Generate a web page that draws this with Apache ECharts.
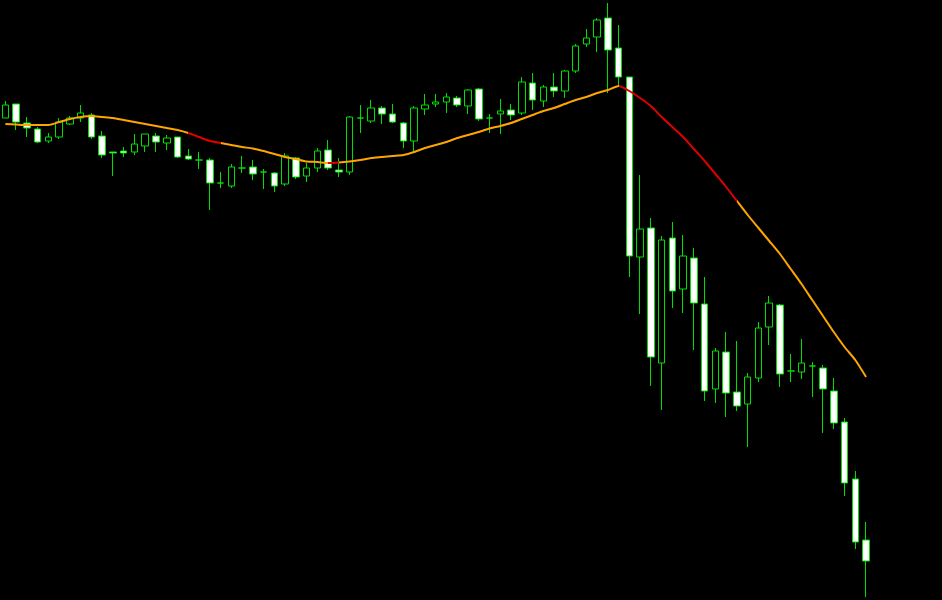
<!DOCTYPE html>
<html>
<head>
<meta charset="utf-8">
<script src="https://cdn.jsdelivr.net/npm/echarts@6/dist/echarts.min.js"></script>
<style>
html,body{margin:0;padding:0;background:#000;}
#chart{width:942px;height:600px;}
</style>
</head>
<body>
<div id="chart"></div>
<script>
// Candle values (price points)
var opens  = [482,496,477,471,459,463,476,482,485,464,448,449,448,454,464,457,463,444,440,440,417,414,432,433,428,427,416,442,424,432,450,430,428,482,479,492,486,477,459,491,496,498,502,494,511,482,486,490,487,517,499,513,509,529,556,563,582,552,523,343,372,237,362,311,342,296,211,248,208,196,222,273,295,229,228,234,232,209,178,121,60];
var closes = [495,478,472,458,463,478,482,487,463,445,447,447,456,466,458,462,443,441,440,417,417,433,432,426,428,414,444,423,432,449,432,428,483,482,492,486,478,459,492,495,498,503,495,510,481,482,489,485,518,500,513,509,529,554,562,580,550,523,344,371,243,360,309,344,297,209,249,207,194,223,272,297,226,229,237,234,211,177,117,58,39];
var lows   = [482,470,463,457,457,461,475,478,461,442,424,443,445,448,448,450,442,440,431,390,412,412,427,420,411,408,414,421,418,428,430,423,425,467,477,476,477,452,448,485,493,487,493,486,479,467,466,480,485,490,493,503,502,527,553,548,507,515,323,286,214,190,292,287,250,199,197,183,189,153,218,255,213,218,221,203,167,171,104,51,3];
var highs  = [499,496,483,473,467,482,484,495,487,469,448,453,466,466,467,465,463,451,448,442,428,436,444,440,431,428,447,443,437,452,460,442,484,495,500,494,496,478,494,506,506,507,504,511,512,486,501,496,523,527,515,527,530,556,571,582,597,575,523,425,382,364,378,365,352,323,252,268,259,227,278,304,296,246,261,238,235,222,182,129,78];
var maValues = [476,475.5,475,475,475,478,481,483,484,483,482,480,478,476,474,472,470,467,463,459,457,455,453,451.5,449,446,443,441,438.5,438,437,437.5,438.5,440,442,443,444,445,448,452,455,458,462,465,468,471.5,474,477,481,485,489,492,496,500,503,507,510,514,509,502,494,483,473,463,451,439,426,413,399,385,372,359,346,331,316,300,284,268,253,240,223];
var emptySlots = 6; // chart shift space on the right

var categories = [];
for (var i = 0; i < opens.length + emptySlots; i++) categories.push(String(i + 1));

var candleData = opens.map(function (o, i) { return [o, closes[i], lows[i], highs[i]]; });

var chart = echarts.init(document.getElementById('chart'), null, {renderer: 'canvas'});
var green = '#00E000';
chart.setOption({
  backgroundColor: '#000000',
  animation: false,
  grid: {left: -1.4, right: 6, top: 0, bottom: 0},
  xAxis: {type: 'category', data: categories, show: false, boundaryGap: true},
  yAxis: {type: 'value', min: 0, max: 600, show: false, splitLine: {show: false}},
  visualMap: {
    show: false,
    type: 'piecewise',
    seriesIndex: 1,
    dimension: 0,
    pieces: [
      {lt: 16.8, color: '#FFA500'},
      {gte: 16.8, lt: 19.9, color: '#E00000'},
      {gte: 19.9, lt: 29.8, color: '#FFA500'},
      {gte: 29.8, lt: 31.0, color: '#E00000'},
      {gte: 31.0, lt: 56.9, color: '#FFA500'},
      {gte: 56.9, lt: 68.1, color: '#E00000'},
      {gte: 68.1, color: '#FFA500'}
    ]
  },
  series: [
    {
      type: 'candlestick',
      data: candleData,
      barWidth: 7,
      itemStyle: {
        color: '#000000',
        color0: '#FFFFFF',
        borderColor: green,
        borderColor0: green,
        borderColorDoji: green,
        borderWidth: 1
      }
    },
    {
      type: 'line',
      data: maValues,
      symbol: 'none',
      smooth: 0.2,
      lineStyle: {width: 2}
    }
  ]
});
</script>
</body>
</html>
